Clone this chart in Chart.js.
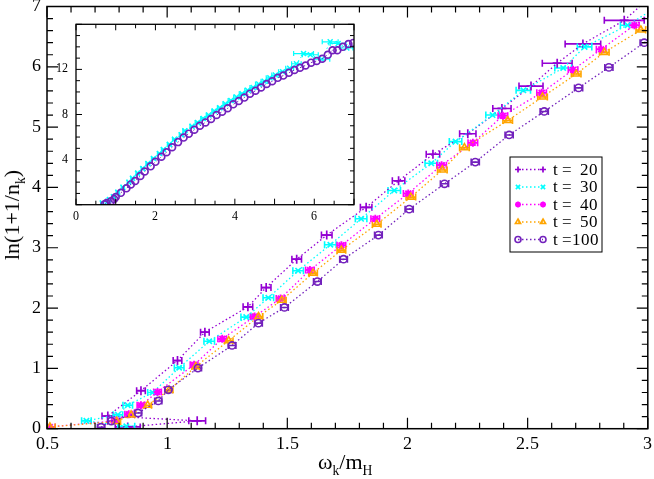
<!DOCTYPE html>
<html>
<head>
<meta charset="utf-8">
<script src="https://cdn.jsdelivr.net/npm/chart.js@4.4.1/dist/chart.umd.min.js"></script>
<style>
    @font-face { font-family: "PlotSerif"; src: local("Liberation Serif"), local("LiberationSerif"), local("Liberation Serif Regular"), local("LiberationSerif-Regular"); }
    body { margin: 0; background: #fff; }
    #wrap { position: relative; width: 654px; height: 479px; font-family: "Liberation Serif", "Times New Roman", serif; }
    #main { position: absolute; left: 0; top: 0; }
    #inset { position: absolute; left: 40px; top: 14px; }
    .title { position: absolute; font-size: 22px; line-height: 1; color: #000; white-space: nowrap; }
    .title sub { font-size: 0.62em; vertical-align: -0.45em; line-height: 0; }
    #x-title { left: 318px; top: 451px; }
    #y-title { left: 12px; top: 215px; transform: translate(-50%, -50%) rotate(-90deg); }
    .probe { position: absolute; left: -999px; top: 0; font-family: "PlotSerif"; }
</style>
</head>
<body>
<div id="wrap">
    <canvas id="main" width="654" height="479"></canvas>
    <canvas id="inset" width="320" height="212"></canvas>
    <div class="title" id="x-title">ω<sub>k</sub>/m<sub>H</sub></div>
    <div class="title" id="y-title">ln(1+1/n<sub>k</sub>)</div>
    <span class="probe">0123456789t=.</span>
</div>
<script>
// ticks
const X_TICKS = [0.5, 1, 1.5, 2, 2.5, 3];
const Y_TICKS = [0, 1, 2, 3, 4, 5, 6, 7];
const INSET_X_TICKS = [0, 2, 4, 6];
const INSET_Y_TICKS = [4, 8, 12];

const LABELS = ['t =  20', 't =  30', 't =  40', 't =  50', 't =100'];

// t = 20 (points are not sorted in x at small momenta, as in the picture)
const T20_X = [0.836, 1.125, 0.753, 0.891, 1.043, 1.157, 1.336, 1.412, 1.539, 1.664, 1.828, 1.963, 2.106, 2.251, 2.393, 2.514, 2.623, 2.730, 2.902, 3.05];
const T20_Y = [0.03, 0.13, 0.21, 0.63, 1.13, 1.60, 2.02, 2.34, 2.81, 3.21, 3.67, 4.11, 4.55, 4.89, 5.31, 5.68, 6.06, 6.38, 6.77, 7.30];
const T20_ERR = [0.052, 0.035, 0.024, 0.018, 0.018, 0.018, 0.02, 0.02, 0.02, 0.022, 0.024, 0.026, 0.028, 0.034, 0.038, 0.05, 0.062, 0.074, 0.083, 0.09];

// t = 30
const T30_X = [0.83, 0.664, 0.795, 0.836, 0.939, 1.05, 1.175, 1.329, 1.421, 1.545, 1.679, 1.807, 1.945, 2.099, 2.2, 2.354, 2.482, 2.648, 2.737, 2.916, 3.08];
const T30_Y = [0.04, 0.13, 0.23, 0.39, 0.60, 1.01, 1.45, 1.85, 2.17, 2.62, 3.05, 3.48, 3.95, 4.40, 4.76, 5.20, 5.61, 5.98, 6.33, 6.69, 7.10];
const T30_ERR = [0.035, 0.02, 0.02, 0.02, 0.02, 0.02, 0.022, 0.022, 0.022, 0.022, 0.024, 0.024, 0.026, 0.026, 0.026, 0.028, 0.03, 0.035, 0.03, 0.03, 0.03];

// t = 40
const T40_X = [0.512, 0.785, 0.84, 0.891, 0.96, 1.112, 1.229, 1.364, 1.472, 1.594, 1.725, 1.866, 2.003, 2.142, 2.272, 2.397, 2.558, 2.689, 2.806, 2.944, 3.09];
const T40_Y = [0.03, 0.13, 0.24, 0.39, 0.61, 1.06, 1.49, 1.86, 2.16, 2.63, 3.04, 3.48, 3.90, 4.37, 4.74, 5.19, 5.57, 5.95, 6.29, 6.69, 7.05];
const T40_ERR = [0.022, 0.016, 0.016, 0.016, 0.016, 0.016, 0.018, 0.018, 0.018, 0.018, 0.018, 0.018, 0.02, 0.02, 0.02, 0.02, 0.02, 0.02, 0.02, 0.02, 0.02];

// t = 50
const T50_X = [0.512, 0.79, 0.85, 0.919, 1.008, 1.119, 1.256, 1.38, 1.477, 1.607, 1.725, 1.872, 2.014, 2.145, 2.237, 2.417, 2.562, 2.702, 2.819, 2.971, 3.12];
const T50_Y = [0.03, 0.12, 0.23, 0.39, 0.64, 1.03, 1.46, 1.86, 2.13, 2.58, 2.96, 3.39, 3.84, 4.29, 4.66, 5.11, 5.50, 5.88, 6.24, 6.61, 6.98];
const T50_ERR = [0.022, 0.016, 0.016, 0.016, 0.016, 0.016, 0.018, 0.018, 0.018, 0.018, 0.018, 0.018, 0.02, 0.02, 0.02, 0.02, 0.02, 0.02, 0.02, 0.02, 0.02];

// t = 100
const T100_X = [0.725, 0.767, 0.879, 0.963, 1.005, 1.128, 1.27, 1.38, 1.488, 1.625, 1.734, 1.879, 2.007, 2.154, 2.282, 2.423, 2.569, 2.712, 2.838, 2.985, 3.13];
const T100_Y = [0.025, 0.125, 0.26, 0.46, 0.645, 1.005, 1.38, 1.75, 2.01, 2.44, 2.81, 3.21, 3.64, 4.06, 4.42, 4.87, 5.26, 5.65, 5.99, 6.40, 6.80];
const T100_ERR = [0.015, 0.015, 0.015, 0.015, 0.015, 0.015, 0.016, 0.016, 0.016, 0.016, 0.016, 0.016, 0.017, 0.017, 0.017, 0.017, 0.017, 0.017, 0.017, 0.017, 0.017];

// inset: t = 100 and t = 30 over the whole momentum range
const INSET100_X = [0.72, 0.77, 0.88, 0.96, 1.0, 1.13, 1.27, 1.38, 1.49, 1.62, 1.73, 1.88, 2.0, 2.15, 2.28, 2.42, 2.57, 2.71, 2.84, 2.98, 3.12, 3.26, 3.4, 3.54, 3.68, 3.82, 3.96, 4.1, 4.24, 4.38, 4.52, 4.66, 4.8, 4.94, 5.08, 5.22, 5.36, 5.5, 5.64, 5.78, 5.92, 6.06, 6.2, 6.34, 6.46, 6.58, 6.72, 6.86, 6.98];
const INSET100_Y = [0.03, 0.15, 0.3, 0.5, 0.68, 1.05, 1.45, 1.8, 2.1, 2.55, 2.95, 3.4, 3.8, 4.25, 4.65, 5.1, 5.55, 5.95, 6.3, 6.65, 7.0, 7.3, 7.6, 7.95, 8.25, 8.55, 8.9, 9.2, 9.5, 9.85, 10.1, 10.4, 10.7, 10.95, 11.25, 11.45, 11.7, 11.95, 12.15, 12.35, 12.6, 12.75, 12.95, 13.3, 13.7, 13.7, 14.0, 14.25, 14.35];

const INSET30_X = [0.66, 0.8, 0.84, 0.94, 1.05, 1.18, 1.33, 1.42, 1.55, 1.68, 1.81, 1.95, 2.1, 2.2, 2.35, 2.48, 2.65, 2.74, 2.92, 3.06, 3.2, 3.34, 3.48, 3.62, 3.76, 3.9, 4.04, 4.18, 4.32, 4.46, 4.6, 4.74, 4.88, 5.02, 5.2, 5.38, 5.55, 5.73, 5.9, 6.19, 6.4, 6.6, 6.82];
const INSET30_Y = [0.15, 0.3, 0.45, 0.7, 1.1, 1.55, 2.0, 2.35, 2.8, 3.2, 3.65, 4.1, 4.55, 4.9, 5.35, 5.8, 6.2, 6.55, 6.95, 7.3, 7.65, 7.95, 8.3, 8.6, 8.95, 9.25, 9.55, 9.85, 10.15, 10.4, 10.7, 10.95, 11.25, 11.5, 11.8, 12.1, 12.5, 13.4, 13.3, 12.9, 14.45, 14.3, 13.9];
const INSET30_ERR = [0.04, 0.04, 0.04, 0.04, 0.04, 0.04, 0.04, 0.04, 0.04, 0.04, 0.05, 0.05, 0.05, 0.05, 0.05, 0.05, 0.05, 0.05, 0.05, 0.06, 0.06, 0.06, 0.06, 0.06, 0.06, 0.07, 0.07, 0.07, 0.07, 0.08, 0.08, 0.08, 0.09, 0.09, 0.1, 0.1, 0.12, 0.25, 0.2, 0.2, 0.2, 0.2, 0.15];

const VIOLET = '#9400d3';
const CYAN = '#00ffff';
const MAGENTA = '#ff00ff';
const ORANGE = '#ffa500';
const INDIGO = '#7221bc';

const FONT = 'PlotSerif, "Liberation Serif", "Times New Roman", Times, serif';

const toPoints = (xs, ys) => xs.map((x, i) => ({ x, y: ys[i] }));

/**
 * Горизонтальные планки погрешностей, рисуются через шкалы графика.
 */
const errorBarPlugin = {
    id: 'errorBars',
    beforeDatasetsDraw(chart, args, opts) {
        const { ctx, chartArea: a, scales } = chart;
        ctx.save();
        ctx.beginPath();
        ctx.rect(a.left, a.top, a.width, a.height);
        ctx.clip();
        ctx.setLineDash([]);
        chart.data.datasets.forEach((ds) => {
            if (!ds.errX) {
                return;
            }
            ctx.strokeStyle = ds.borderColor;
            ctx.lineWidth = opts.lineWidth;
            ds.data.forEach((p, i) => {
                const e = ds.errX[i];
                if (!e) {
                    return;
                }
                const x0 = scales.x.getPixelForValue(p.x - e);
                const x1 = scales.x.getPixelForValue(p.x + e);
                const y = scales.y.getPixelForValue(p.y);
                ctx.beginPath();
                ctx.moveTo(x0, y);
                ctx.lineTo(x1, y);
                ctx.moveTo(x0, y - opts.cap);
                ctx.lineTo(x0, y + opts.cap);
                ctx.moveTo(x1, y - opts.cap);
                ctx.lineTo(x1, y + opts.cap);
                ctx.stroke();
            });
        });
        ctx.restore();
    }
};

/**
 * Рамка с засечками внутрь на всех четырёх сторонах.
 */
const framePlugin = {
    id: 'frame',
    beforeDraw(chart, args, o) {
        if (!o.fill) {
            return;
        }
        const { ctx, chartArea: a } = chart;
        ctx.save();
        ctx.fillStyle = o.fill;
        ctx.fillRect(a.left, a.top, a.width, a.height);
        ctx.restore();
    },
    afterDraw(chart, args, o) {
        const { ctx, chartArea: a, scales } = chart;
        const eachTick = (scale, step, major, fn) => {
            const n = Math.round((scale.max - scale.min) / step);
            for (let i = 0; i <= n; i++) {
                const v = scale.min + i * step;
                const isMajor = Math.abs(v / major - Math.round(v / major)) < 1e-6;
                fn(scale.getPixelForValue(v), isMajor ? o.majorLen : o.minorLen);
            }
        };
        ctx.save();
        ctx.setLineDash([]);
        ctx.strokeStyle = '#000';
        ctx.lineWidth = o.tickWidth;
        ctx.beginPath();
        eachTick(scales.x, o.xMinor, o.xMajor, (px, len) => {
            ctx.moveTo(px, a.bottom);
            ctx.lineTo(px, a.bottom - len);
            ctx.moveTo(px, a.top);
            ctx.lineTo(px, a.top + len);
        });
        eachTick(scales.y, o.yMinor, o.yMajor, (py, len) => {
            ctx.moveTo(a.left, py);
            ctx.lineTo(a.left + len, py);
            ctx.moveTo(a.right, py);
            ctx.lineTo(a.right - len, py);
        });
        ctx.stroke();
        ctx.lineWidth = o.width;
        ctx.strokeRect(a.left, a.top, a.width, a.height);
        ctx.restore();
    }
};

const drawMarker = (ctx, ds, x, y, radius) => {
    ctx.strokeStyle = ds.pointBorderColor;
    ctx.fillStyle = ds.pointBackgroundColor;
    ctx.lineWidth = ds.pointBorderWidth;
    if (Chart.helpers && Chart.helpers.drawPoint) {
        Chart.helpers.drawPoint(ctx, { pointStyle: ds.pointStyle, radius, borderWidth: ds.pointBorderWidth, rotation: 0 }, x, y);
    }
};

/**
 * Легенда в рамке внутри области графика.
 */
const boxLegendPlugin = {
    id: 'boxLegend',
    afterDraw(chart, args, o) {
        const { ctx } = chart;
        ctx.save();
        ctx.fillStyle = '#fff';
        ctx.fillRect(o.left, o.top, o.width, o.height);
        ctx.setLineDash([]);
        ctx.strokeStyle = '#000';
        ctx.lineWidth = 1;
        ctx.strokeRect(o.left, o.top, o.width, o.height);
        chart.data.datasets.forEach((ds, i) => {
            const y = o.top + o.firstRow + i * o.rowGap;
            ctx.strokeStyle = ds.borderColor;
            ctx.lineWidth = ds.borderWidth;
            ctx.setLineDash(ds.borderDash);
            ctx.beginPath();
            ctx.moveTo(o.lineX0, y);
            ctx.lineTo(o.lineX1, y);
            ctx.stroke();
            ctx.setLineDash([]);
            drawMarker(ctx, ds, o.lineX0, y, o.markerRadius);
            drawMarker(ctx, ds, o.lineX1, y, o.markerRadius);
            ctx.fillStyle = '#000';
            ctx.font = o.font;
            ctx.textAlign = 'left';
            ctx.textBaseline = 'middle';
            ctx.fillText(ds.label, o.textX, y + 1);
        });
        ctx.restore();
    }
};

const series = (label, xs, ys, errs, color, style, order, radius, pointWidth) => ({
    label,
    data: toPoints(xs, ys),
    errX: errs,
    showLine: true,
    borderColor: color,
    borderWidth: 1.3,
    borderDash: [1.5, 2.5],
    pointStyle: style,
    pointRadius: radius,
    pointBorderColor: color,
    pointBackgroundColor: 'rgba(0,0,0,0)',
    pointBorderWidth: pointWidth,
    order
});

const tickFont = (size) => ({ family: FONT, size });

const drawCharts = () => {
    new Chart(document.getElementById('main'), {
        type: 'scatter',
        data: {
            datasets: [
                series(LABELS[0], T20_X, T20_Y, T20_ERR, VIOLET, 'cross', 4, 4.5, 1.7),
                series(LABELS[1], T30_X, T30_Y, T30_ERR, CYAN, 'crossRot', 3, 3.8, 1.7),
                series(LABELS[2], T40_X, T40_Y, T40_ERR, MAGENTA, 'star', 2, 4, 1.9),
                series(LABELS[3], T50_X, T50_Y, T50_ERR, ORANGE, 'triangle', 1, 4, 1.6),
                series(LABELS[4], T100_X, T100_Y, T100_ERR, INDIGO, 'circle', 0, 3.6, 1.6)
            ]
        },
        options: {
            responsive: false,
            animation: false,
            devicePixelRatio: 1,
            layout: { padding: { top: 6.5, right: 3, left: 0, bottom: 0 } },
            plugins: {
                legend: { display: false },
                tooltip: { enabled: false },
                errorBars: { lineWidth: 1.6, cap: 3.5 },
                frame: { xMajor: 0.5, xMinor: 0.1, yMajor: 1, yMinor: 0.2, majorLen: 11, minorLen: 6, tickWidth: 1.2, width: 1.5 },
                boxLegend: {
                    left: 510, top: 157, width: 92, height: 95,
                    firstRow: 12.5, rowGap: 17.5,
                    lineX0: 518, lineX1: 543, textX: 553,
                    markerRadius: 3, font: '17px ' + FONT
                }
            },
            scales: {
                x: {
                    type: 'linear', min: 0.5, max: 3,
                    afterBuildTicks: (s) => { s.ticks = X_TICKS.map((v) => ({ value: v })); },
                    afterFit: (s) => { s.height = 50.3; s.paddingLeft = 0; s.paddingRight = 0; },
                    grid: { display: false, drawTicks: false },
                    border: { display: false },
                    ticks: { font: tickFont(17.5), color: '#000', padding: 5, maxRotation: 0, autoSkip: false, callback: (v) => String(v) }
                },
                y: {
                    type: 'linear', min: 0, max: 7,
                    afterBuildTicks: (s) => { s.ticks = Y_TICKS.map((v) => ({ value: v })); },
                    afterFit: (s) => { s.width = 47; s.paddingTop = 0; s.paddingBottom = 0; },
                    grid: { display: false, drawTicks: false },
                    border: { display: false },
                    ticks: { font: tickFont(17.5), color: '#000', padding: 6, autoSkip: false, callback: (v) => String(v) }
                }
            }
        },
        plugins: [errorBarPlugin, framePlugin, boxLegendPlugin]
    });

    new Chart(document.getElementById('inset'), {
        type: 'scatter',
        data: {
            datasets: [
                Object.assign(series(LABELS[1], INSET30_X, INSET30_Y, INSET30_ERR, CYAN, 'crossRot', 1, 3.5, 1.5), { borderWidth: 1 }),
                Object.assign(series(LABELS[4], INSET100_X, INSET100_Y, null, INDIGO, 'circle', 0, 3.4, 1.7), { borderWidth: 1 })
            ]
        },
        options: {
            responsive: false,
            animation: false,
            devicePixelRatio: 1,
            layout: { padding: { top: 10.3, right: 6, left: 0, bottom: 0 } },
            plugins: {
                legend: { display: false },
                tooltip: { enabled: false },
                errorBars: { lineWidth: 1.2, cap: 2.5 },
                frame: { fill: '#fff', xMajor: 1, xMinor: 0.5, yMajor: 4, yMinor: 1, majorLen: 6, minorLen: 4, tickWidth: 1, width: 1.3 }
            },
            scales: {
                x: {
                    type: 'linear', min: 0, max: 7,
                    afterBuildTicks: (s) => { s.ticks = INSET_X_TICKS.map((v) => ({ value: v })); },
                    afterFit: (s) => { s.height = 21.3; s.paddingLeft = 0; s.paddingRight = 0; },
                    grid: { display: false, drawTicks: false },
                    border: { display: false },
                    ticks: { font: tickFont(11.5), color: '#000', padding: 5, maxRotation: 0, autoSkip: false, callback: (v) => String(v) }
                },
                y: {
                    type: 'linear', min: 0, max: 16,
                    afterBuildTicks: (s) => { s.ticks = INSET_Y_TICKS.map((v) => ({ value: v })); },
                    afterFit: (s) => { s.width = 36; s.paddingTop = 0; s.paddingBottom = 0; },
                    grid: { display: false, drawTicks: false },
                    border: { display: false },
                    ticks: { font: tickFont(11.5), color: '#000', padding: 8, autoSkip: false, callback: (v) => String(v) }
                }
            }
        },
        plugins: [errorBarPlugin, framePlugin]
    });
};

// ждём загрузки шрифта, чтобы canvas не рисовал подписи запасным шрифтом
const fontReady = document.fonts && document.fonts.load
    ? Promise.all([
        document.fonts.load('17px PlotSerif'),
        document.fonts.load('17px "Liberation Serif"')
    ]).catch(() => null)
    : Promise.resolve();
fontReady.then(drawCharts, drawCharts);
</script>
</body>
</html>
